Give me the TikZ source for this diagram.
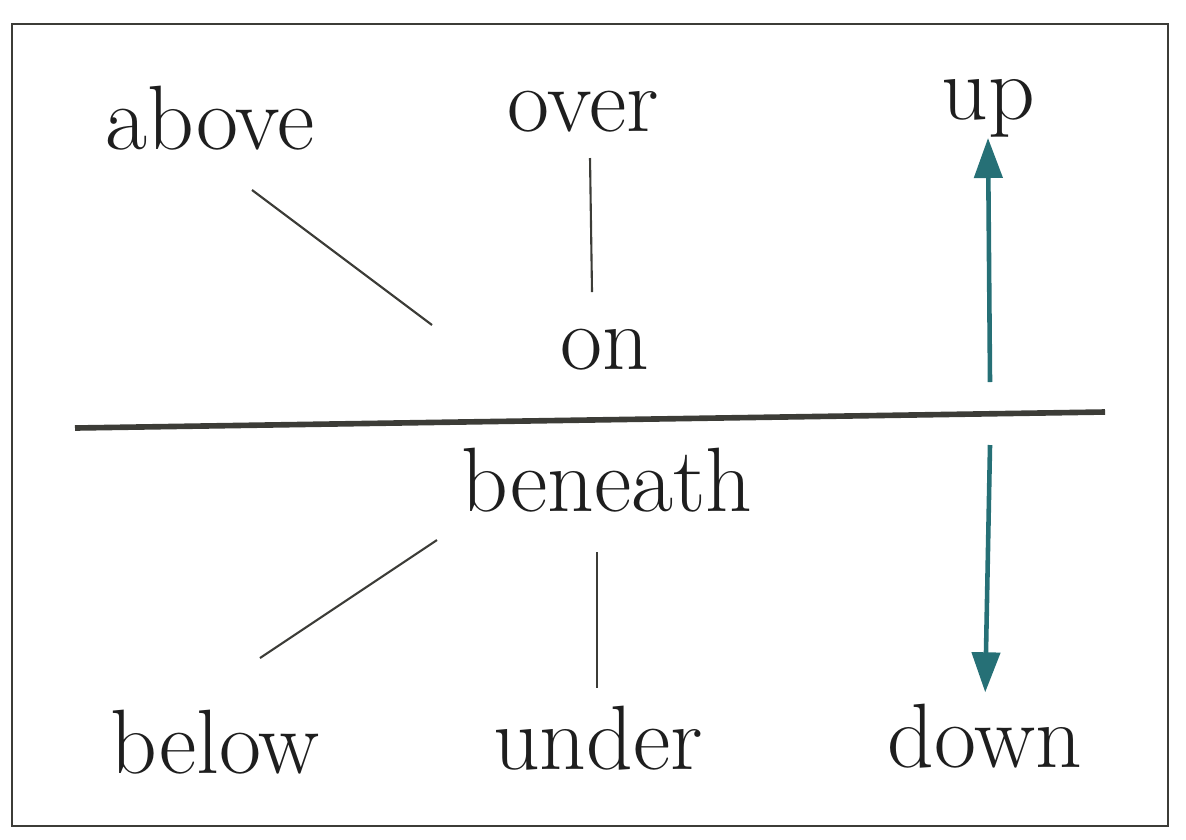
\documentclass[tikz,border=0pt]{standalone}
\usepackage{tikz}
\usetikzlibrary{arrows.meta,positioning}
\definecolor{arrowteal}{RGB}{38,112,118}
\definecolor{inkgray}{RGB}{30,30,30}
\definecolor{rulegray}{RGB}{60,60,55}

\begin{document}
\begin{tikzpicture}[x=0.01cm,y=-0.01cm,>={Triangle[length=4mm,width=2.8mm]},semithick]
\tikzstyle{word node}=[text=inkgray,inner sep=0,font=\fontsize{26}{30}\selectfont]
\tikzstyle{thin line}=[draw=rulegray,line width=0.6pt]
\tikzstyle{move arrow}=[draw=arrowteal,line width=1.3pt]

\useasboundingbox (0,0) rectangle (1186,839);
\draw[rulegray,line width=0.8pt] (12,24) rectangle (1168,826);

      \node[word node] (above) at (210,118) {above};
      \node[word node] (over) at (583,112) {over};
      \node[word node] (up) at (988,108) {up};
      \node[word node] (on) at (605,350) {on};
      \node[word node] (beneath) at (607,480) {beneath};
      \node[word node] (below) at (215,742) {below};
      \node[word node] (under) at (598,738) {under};
      \node[word node] (down) at (985,736) {down};

      % ends of the strokes
      \coordinate (a1) at (252,190);
      \coordinate (a2) at (432,325);
      \coordinate (o1) at (590,158);
      \coordinate (o2) at (592,292);
      \coordinate (u1) at (990,382);
      \coordinate (d1) at (990,445);
      \coordinate (b1) at (437,540);
      \coordinate (b2) at (260,658);
      \coordinate (n1) at (597,552);
      \coordinate (n2) at (597,688);
      \coordinate (hl) at (75,428);
      \coordinate (hr) at (1105,412);

    \draw[rulegray,line width=1.6pt] (hl) -- (hr);
    \path[thin line] (a1) edge (a2)
                (o1) edge (o2)
                (b1) edge (b2)
                (n1) edge (n2);
    \draw[move arrow,->] (u1) -- (up.south);
    \draw[move arrow,->,shorten >=3pt] (d1) -- (down.north);
\end{tikzpicture}
\end{document}
